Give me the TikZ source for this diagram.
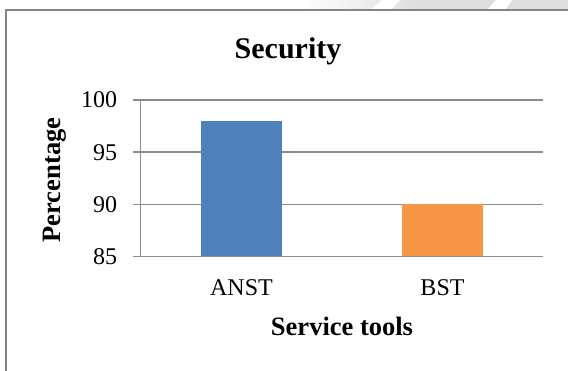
\documentclass[tikz,border=0pt]{standalone}
\usepackage{fontspec}
\setmainfont{Liberation Serif}
\usetikzlibrary{positioning}

\begin{document}
\begin{tikzpicture}[
    x=1pt, y=-1pt,
    every node/.style={inner sep=0pt, outer sep=0pt},
    framebox/.style={draw=black!48, line width=2pt},
    gridline/.style={draw=black!45, line width=1.5pt},
    ticklabel/.style={font=\fontsize{24}{24}\selectfont, anchor=east},
    catlabel/.style={font=\fontsize{24}{24}\selectfont, anchor=base},
    axislabel/.style={font=\fontsize{26.5}{26.5}\selectfont\bfseries},
    titlelabel/.style={font=\fontsize{30}{30}\selectfont\bfseries, anchor=base}
]
\useasboundingbox (0,0) rectangle (568,370);

% faint watermark above the frame
\fill[left color=white, right color=black!13] (300,0) rectangle (420,9);
\fill[black!13] (420,0) rectangle (568,9);
\fill[white] (372,9) -- (382,0) -- (400,0) -- (392,9) -- cycle;
\fill[white] (488,9) -- (496,0) -- (512,0) -- (506,9) -- cycle;

% chart frame
\draw[framebox] (6,372) -- (6,10) -- (570,10);

% grid lines and ticks
\foreach \v in {90,95,100} {
    \pgfmathsetmacro\yy{256.7-(\v-85)*10.45}
    \draw[gridline] (133,\yy) -- (543,\yy);
    \node[ticklabel] (tick\v) at (117,\yy) {\v};
}
\node[ticklabel] (tick85) at (117,256.7) {85};

% bars
\fill[fill={rgb,255:red,79;green,129;blue,189}] (201,256.7) rectangle (282,{256.7-13*10.45});
\fill[fill={rgb,255:red,247;green,150;blue,70}] (402,256.7) rectangle (483,{256.7-5*10.45});

% axes
\draw[gridline] (140.5,100) -- (140.5,256.7);
\draw[gridline] (133,256.7) -- (543,256.7);

% labels
\node[titlelabel] (title) at (288,58) {Security};
\node[catlabel] (anst) at (241.5,295) {ANST};
\node[catlabel] (bst) at (442.5,295) {BST};
\node[catlabel, axislabel] (xlabel) at (342,335) {Service tools};
\node[axislabel, rotate=90] (ylabel) at (55,180) {Percentage};

\end{tikzpicture}
\end{document}
